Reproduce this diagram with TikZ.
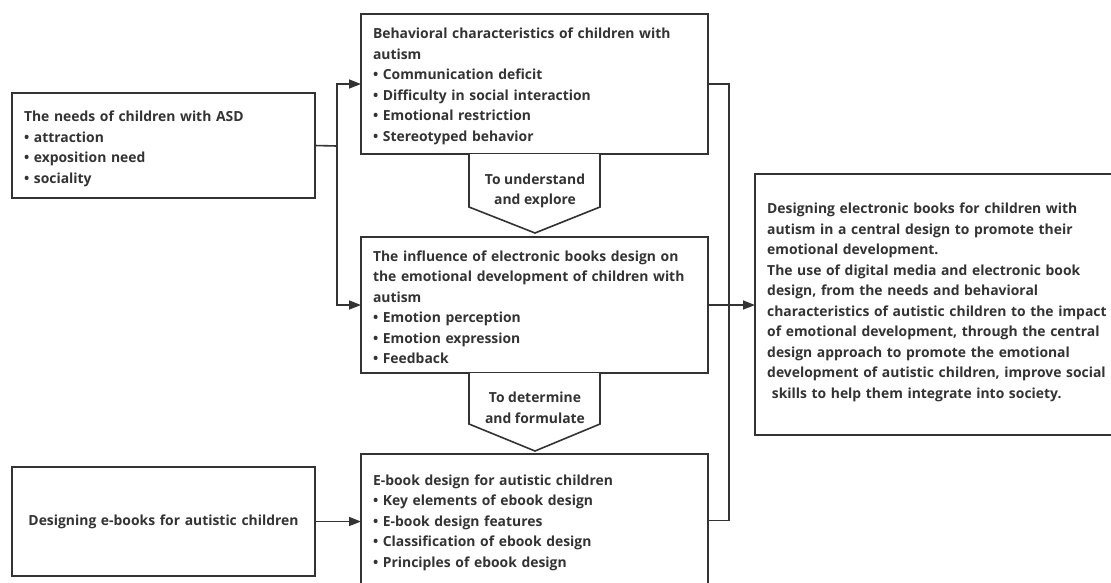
\documentclass[tikz,border=0pt]{standalone}
\usepackage{fontspec}
\setmainfont{Open Sans}
\usetikzlibrary{arrows.meta}
\definecolor{ink}{HTML}{333333}
\newcommand\toplift[1]{\rule{0pt}{#1}}
\begin{document}
\begin{tikzpicture}[x=1pt,y=-1pt,
  txt/.style={text=ink, font=\bfseries\fontsize{13.9}{20.5}\selectfont},
  box/.style={txt, draw=ink, line width=1.6pt, fill=white, align=left,
    inner xsep=12pt, inner ysep=0pt, outer sep=0pt, anchor=north west},
  conn/.style={draw=ink, line width=1.6pt},
  arr/.style={conn, -{Triangle[length=12pt,width=9pt]}},
  chev/.style={draw=ink, line width=1.6pt, fill=white, line join=miter}]
\useasboundingbox (0,0) rectangle (1111,582);
\clip (0,0) rectangle (1111,582);
\fill[white] (0,0) rectangle (1111,582);

\node[box, minimum width=303pt, minimum height=105pt, text width=279pt] (L1) at (12,93)
  {\toplift{17pt}The needs of children with ASD\\• attraction\\• exposition need\\• sociality};
\node[box, minimum width=303pt, minimum height=109pt, text width=279pt, align=center] (L2) at (12,467)
  {Designing e-books for autistic children};
\node[box, minimum width=347pt, minimum height=140pt, text width=323pt] (B2) at (361,14)
  {\toplift{15pt}Behavioral characteristics of children with\\autism\\• Communication deficit\\• Difficulty in social interaction\\• Emotional restriction\\• Stereotyped behavior};
\node[box, minimum width=347pt, minimum height=136pt, text width=323pt] (B3) at (361,237)
  {\toplift{15pt}The influence of electronic books design on\\the emotional development of children with\\autism\\• Emotion perception\\• Emotion expression\\• Feedback};
\node[box, minimum width=347pt, minimum height=133pt, text width=323pt] (B4) at (361,454)
  {\toplift{15pt}E-book design for autistic children\\• Key elements of ebook design\\• E-book design features\\• Classification of ebook design\\• Principles of ebook design};
\node[box, minimum width=380pt, minimum height=261pt] (R) at (755,174) {};
\node[txt, anchor=north west, inner sep=0pt, align=left, text width=360pt] (Rt) at (767,203)
  {Designing electronic books for children with\\autism in a central design to promote their\\emotional development.\\The use of digital media and electronic book\\design, from the needs and behavioral\\characteristics of autistic children to the impact\\of emotional development, through the central\\design approach to promote the emotional\\development of autistic children, improve social\\\ skills to help them integrate into society.};

% chevrons
\draw[chev] (469,154) -- (469,207) -- (535,233) -- (600,207) -- (600,154);
\node[txt, align=center] (C1) at (535,191) {To understand\\ and explore};
\draw[chev] (469,373) -- (469,424) -- (535,451) -- (600,424) -- (600,373);
\node[txt, align=center] (C2) at (535,408) {To determine\\and formulate};

% connectors
\coordinate (jl) at (337,146);
\coordinate (jr) at (729,305);
\draw[conn] (L1.east) -- (jl);
\draw[arr] (jl) |- (B2.west);
\draw[arr] (jl) |- (B3.west);
\draw[arr] (L2.east) -- (L2.east -| B4.west);
\draw[conn] (B2.east) -| (jr);
\draw[conn] (B4.east) -| (jr);
\draw[arr] (B3.east) -- (B3.east -| R.west);
\end{tikzpicture}
\end{document}
